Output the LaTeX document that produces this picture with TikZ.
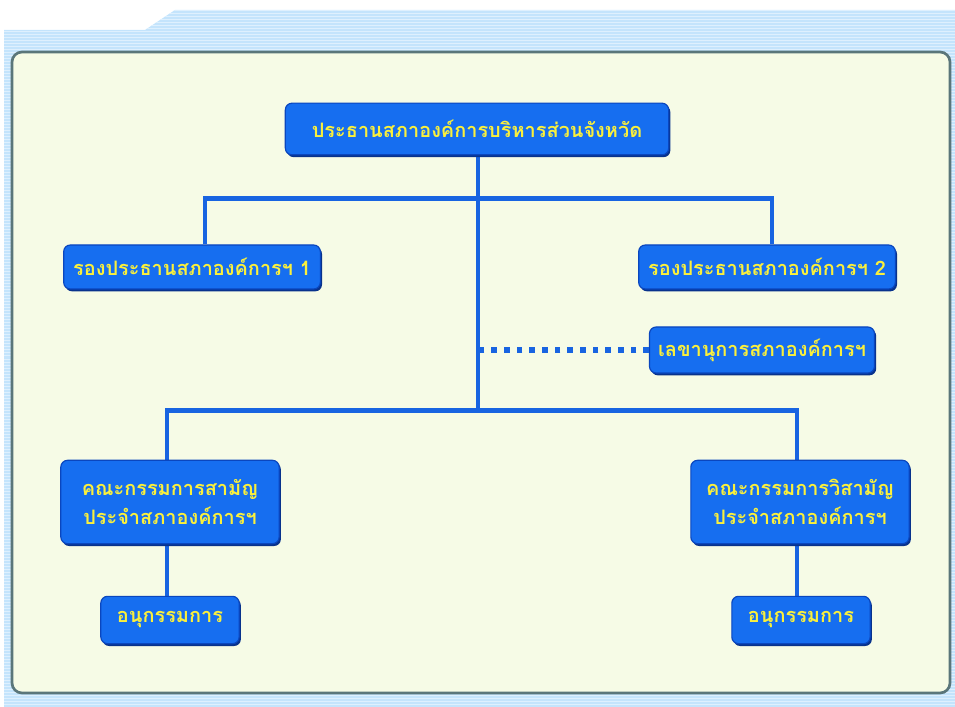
\documentclass[tikz,border=0pt]{standalone}
\usepackage{fontspec}
\usepackage{tikz}
\usetikzlibrary{shadows, calc}
\newfontfamily\thaifont[Script=Thai]{Loma}
\pgfdeclarelayer{background}
\pgfsetlayers{background,main}
\definecolor{boxblue}{RGB}{22,110,240}
\definecolor{boxedge}{RGB}{10,70,190}
\definecolor{boxshade}{RGB}{8,50,140}
\definecolor{textyellow}{RGB}{250,240,60}
\definecolor{linkblue}{RGB}{24,100,225}
\definecolor{bandblue}{RGB}{196,228,252}
\definecolor{bandline}{RGB}{222,240,254}
\definecolor{panelfill}{RGB}{246,251,230}
\definecolor{paneledge}{RGB}{90,118,122}
\tikzstyle{office} = [rectangle, rounded corners=2mm, draw=boxedge, line width=1pt, fill=boxblue, text=textyellow, align=center, font=\thaifont\bfseries\fontsize{17}{25}\selectfont, drop shadow={shadow xshift=0.5mm, shadow yshift=-0.7mm, fill=boxshade, opacity=1}]
\tikzstyle{link} = [linkblue, line width=1.3mm]
\tikzstyle{dotlink} = [linkblue, line width=1.6mm, dash pattern=on 1.7mm off 2.1mm]

\begin{document}
\begin{tikzpicture}[x=0.3mm, y=-0.3mm]
\useasboundingbox (0,0) rectangle (955,707);
% background band and panel
\begin{pgfonlayer}{background}
\begin{scope}
\clip (4,30) -- (145,30) -- (175,10) -- (955,10) -- (955,707) -- (4,707) -- cycle;
\fill[bandblue] (0,0) rectangle (955,707);
\foreach \y in {11,14,...,707}
  \draw[bandline, line width=0.3mm] (0,\y) -- (955,\y);
\end{scope}
\draw[paneledge, line width=0.8mm, fill=panelfill, rounded corners=3mm] (12,52) rectangle (950,693);
\end{pgfonlayer}

% boxes
\node (chair) [office, minimum width=115mm, minimum height=15.5mm] at (477,129) {ประธานสภาองค์การบริหารส่วนจังหวัด};
\node (vc1) [office, minimum width=77mm, minimum height=13.2mm] at (192,267) {รองประธานสภาองค์การฯ 1};
\node (vc2) [office, minimum width=77mm, minimum height=13.2mm] at (767,267) {รองประธานสภาองค์การฯ 2};
\node (sec) [office, minimum width=67.5mm, minimum height=13.8mm] at (762,350) {เลขานุการสภาองค์การฯ};
\node (com1) [office, minimum width=65.5mm, minimum height=25mm] at (170,502) {คณะกรรมการสามัญ\\ประจำสภาองค์การฯ};
\node (com2) [office, minimum width=65.5mm, minimum height=25mm] at (800,502) {คณะกรรมการวิสามัญ\\ประจำสภาองค์การฯ};
\node (sub1) [office, minimum width=41.5mm, minimum height=14.2mm] at (170,620) {อนุกรรมการ};
\node (sub2) [office, minimum width=41.5mm, minimum height=14.2mm] at (801,620) {อนุกรรมการ};

% connectors
\coordinate (hub1) at ($(chair.south)+(1,43)$);
\coordinate (hub2) at ($(chair.south)+(1,255)$);
\begin{pgfonlayer}{background}
\draw[link] (chair.south -| hub1) -- (hub2);
\draw[link] ($(vc1.north)+(13,0)$) |- (hub1) -| ($(vc2.north)+(5,0)$);
\draw[link] ($(com1.north)+(-3,0)$) |- (hub2) -| ($(com2.north)+(-3,0)$);
\draw[link] ($(com1.south)+(-3,0)$) -- ($(sub1.north)+(-3,0)$);
\draw[link] ($(com2.south)+(-3,0)$) -- ($(sub2.north)+(-4,0)$);
\end{pgfonlayer}
\draw[dotlink] (sec.west) -- (sec.west -| hub1);
\end{tikzpicture}
\end{document}
